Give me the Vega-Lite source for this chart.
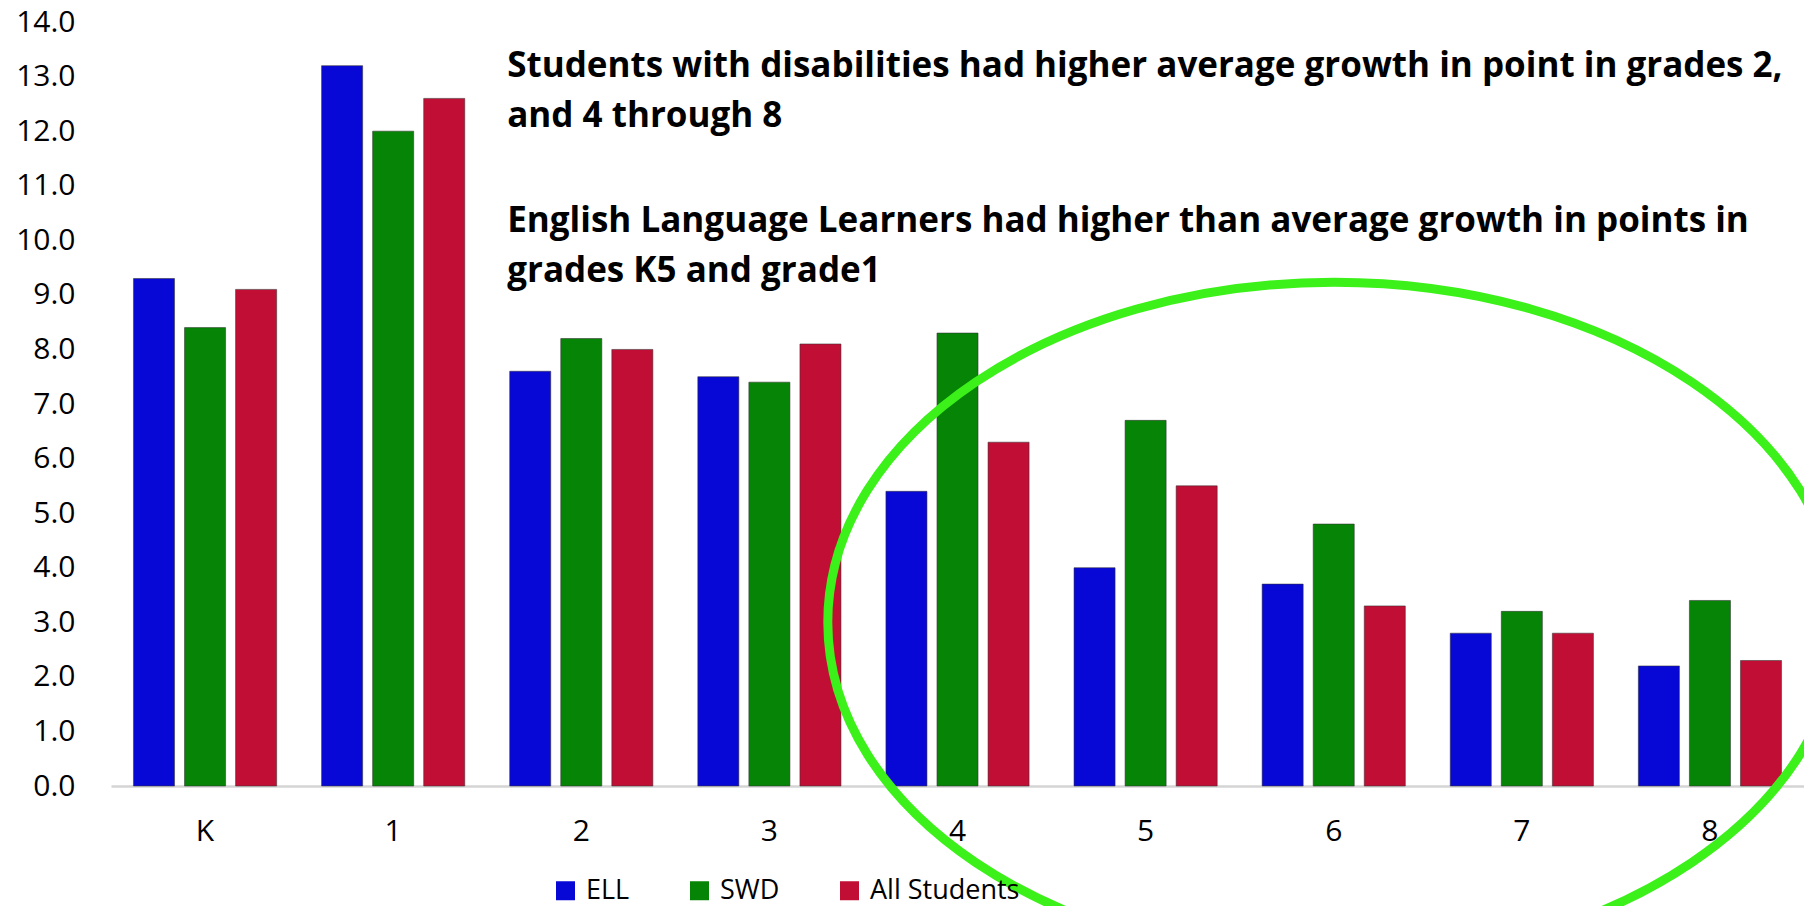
{
  "$schema": "https://vega.github.io/schema/vega-lite/v6.json",
  "width": 1693,
  "height": 764,
  "autosize": {"type": "none"},
  "padding": {"left": 111, "top": 22, "right": 0, "bottom": 120},
  "background": "white",
  "config": {"view": {"stroke": null}, "font": "Open Sans"},
  "datasets": {
    "bars": [
      {"grade": "K", "group": "ELL", "value": 9.3},
      {"grade": "K", "group": "SWD", "value": 8.4},
      {"grade": "K", "group": "All Students", "value": 9.1},
      {"grade": "1", "group": "ELL", "value": 13.2},
      {"grade": "1", "group": "SWD", "value": 12.0},
      {"grade": "1", "group": "All Students", "value": 12.6},
      {"grade": "2", "group": "ELL", "value": 7.6},
      {"grade": "2", "group": "SWD", "value": 8.2},
      {"grade": "2", "group": "All Students", "value": 8.0},
      {"grade": "3", "group": "ELL", "value": 7.5},
      {"grade": "3", "group": "SWD", "value": 7.4},
      {"grade": "3", "group": "All Students", "value": 8.1},
      {"grade": "4", "group": "ELL", "value": 5.4},
      {"grade": "4", "group": "SWD", "value": 8.3},
      {"grade": "4", "group": "All Students", "value": 6.3},
      {"grade": "5", "group": "ELL", "value": 4.0},
      {"grade": "5", "group": "SWD", "value": 6.7},
      {"grade": "5", "group": "All Students", "value": 5.5},
      {"grade": "6", "group": "ELL", "value": 3.7},
      {"grade": "6", "group": "SWD", "value": 4.8},
      {"grade": "6", "group": "All Students", "value": 3.3},
      {"grade": "7", "group": "ELL", "value": 2.8},
      {"grade": "7", "group": "SWD", "value": 3.2},
      {"grade": "7", "group": "All Students", "value": 2.8},
      {"grade": "8", "group": "ELL", "value": 2.2},
      {"grade": "8", "group": "SWD", "value": 3.4},
      {"grade": "8", "group": "All Students", "value": 2.3}
    ],
    "notes": [
      {"grade": "2", "value": 13.19, "label": "Students with disabilities had higher average growth in point in grades 2,\nand 4 through 8"},
      {"grade": "2", "value": 10.35, "label": "English Language Learners had higher than average growth in points in\ngrades K5 and grade1"}
    ],
    "ring": [{"grade": "6", "value": 3.0}]
  },
  "layer": [
    {
      "data": {"name": "bars"},
      "mark": {"type": "bar", "stroke": "#333333", "strokeWidth": 1, "strokeOpacity": 0.55},
      "encoding": {
        "x": {
          "field": "grade", "type": "nominal",
          "sort": ["K", "1", "2", "3", "4", "5", "6", "7", "8"],
          "scale": {"paddingInner": 0, "paddingOuter": 0},
          "axis": {
            "title": null, "labelAngle": 0, "labelFontSize": 30, "labelColor": "#000000",
            "labelFont": "Open Sans", "labelPadding": 30, "ticks": false, "tickSize": 0, "grid": false,
            "domain": true, "domainColor": "#d4d4d4", "domainWidth": 2.5
          }
        },
        "xOffset": {
          "field": "group", "type": "nominal",
          "sort": ["ELL", "SWD", "All Students"],
          "scale": {"paddingInner": 0.196, "paddingOuter": 0.44}
        },
        "y": {
          "field": "value", "type": "quantitative",
          "scale": {"domain": [0, 14], "nice": false},
          "axis": {
            "title": null, "values": [0, 1, 2, 3, 4, 5, 6, 7, 8, 9, 10, 11, 12, 13, 14],
            "format": ".1f", "labelFontSize": 30, "labelColor": "#000000", "labelPadding": 36,
            "labelFont": "Open Sans", "ticks": false, "tickSize": 0, "domain": false, "grid": false
          }
        },
        "color": {
          "field": "group", "type": "nominal",
          "sort": ["ELL", "SWD", "All Students"],
          "scale": {"domain": ["ELL", "SWD", "All Students"], "range": ["#0707d6", "#058405", "#c10e34"]},
          "legend": {
            "orient": "none", "legendX": 441, "legendY": 855, "direction": "horizontal",
            "title": null, "symbolType": "square", "symbolSize": 361, "symbolStrokeWidth": 0,
            "labelFont": "Open Sans", "labelFontSize": 27, "labelColor": "#000000", "labelOffset": 7,
            "columnPadding": 56, "padding": 0
          }
        }
      }
    },
    {
      "data": {"name": "notes"},
      "mark": {
        "type": "text", "align": "left", "baseline": "middle", "fontWeight": "bold",
        "fontSize": 35, "font": "Open Sans", "dx": 20, "color": "#000000",
        "lineBreak": "\n", "lineHeight": 50
      },
      "encoding": {
        "x": {"field": "grade", "type": "nominal", "sort": ["K", "1", "2", "3", "4", "5", "6", "7", "8"], "bandPosition": 0},
        "y": {"field": "value", "type": "quantitative"},
        "text": {"field": "label"}
      }
    },
    {
      "data": {"name": "ring"},
      "mark": {
        "type": "point",
        "shape": "M -1.488 0 A 1.488 1 0 1 0 1.488 0 A 1.488 1 0 1 0 -1.488 0 Z",
        "size": 462400, "filled": false, "stroke": "#3cf01a", "strokeWidth": 9, "opacity": 1
      },
      "encoding": {
        "x": {"field": "grade", "type": "nominal", "sort": ["K", "1", "2", "3", "4", "5", "6", "7", "8"]},
        "y": {"field": "value", "type": "quantitative"}
      }
    }
  ]
}
